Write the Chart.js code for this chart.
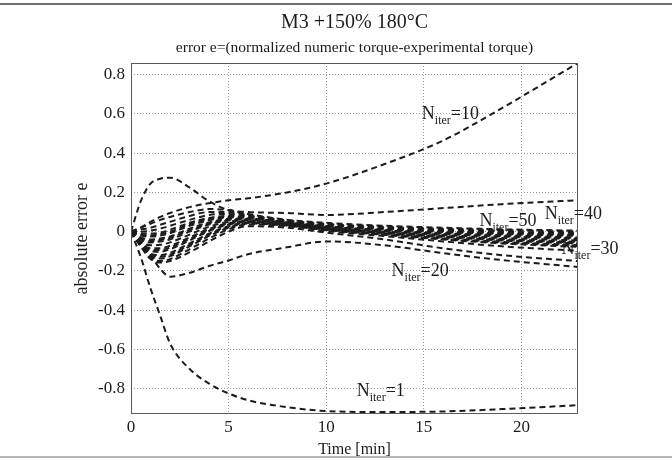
<!DOCTYPE html>
<html>
<head>
<meta charset="utf-8">
<script src="https://cdn.jsdelivr.net/npm/chart.js@4.4.0/dist/chart.umd.min.js"></script>
<style>
  html, body { margin: 0; padding: 0; background: #fff; }
</style>
</head>
<body>
<canvas id="errChart" width="672" height="462"></canvas>
<script>
// sample times [min]
const time = [0, 0.5, 1, 1.5, 2, 3, 4, 5, 6, 8, 10, 13, 16, 19, 22.9];

// absolute error e for the labelled curves
const iter1  = [0, -0.13, -0.29, -0.43, -0.57, -0.70, -0.775, -0.825, -0.86, -0.895, -0.915, -0.92, -0.917, -0.905, -0.885];
const iter10 = [0, 0.02, 0.05, 0.075, 0.095, 0.125, 0.145, 0.16, 0.17, 0.2, 0.245, 0.345, 0.465, 0.63, 0.86];
const iter20 = [0, -0.04, -0.12, -0.19, -0.23, -0.21, -0.175, -0.147, -0.115, -0.08, -0.05, -0.07, -0.11, -0.145, -0.18];
const iter40 = [0, 0.155, 0.245, 0.27, 0.275, 0.225, 0.155, 0.11, 0.10, 0.095, 0.085, 0.10, 0.12, 0.14, 0.16];

// the dense bundle of the remaining iteration counts
const bundle = [
  [0, 0.02, 0.04, 0.06, 0.075, 0.1, 0.115, 0.11, 0.09, 0.06, 0.045, 0.03, 0.02, 0.012, 0.005],
  [0, 0.01, 0.02, 0.035, 0.05, 0.08, 0.1, 0.1, 0.085, 0.058, 0.04, 0.025, 0.015, 0.008, 0.0],
  [0, 0, 0.005, 0.015, 0.03, 0.06, 0.085, 0.09, 0.08, 0.055, 0.037, 0.02, 0.01, 0.0, -0.008],
  [0, -0.01, -0.01, -0.005, 0.01, 0.045, 0.07, 0.08, 0.075, 0.052, 0.034, 0.016, 0.004, -0.006, -0.015],
  [0, -0.015, -0.018, -0.012, 0.0, 0.038, 0.064, 0.076, 0.072, 0.051, 0.032, 0.014, 0.001, -0.009, -0.018],
  [0, -0.02, -0.025, -0.02, -0.008, 0.03, 0.058, 0.072, 0.07, 0.05, 0.03, 0.012, -0.002, -0.012, -0.022],
  [0, -0.03, -0.04, -0.035, -0.025, 0.015, 0.047, 0.065, 0.066, 0.047, 0.027, 0.008, -0.007, -0.018, -0.03],
  [0, -0.035, -0.048, -0.043, -0.032, 0.008, 0.042, 0.061, 0.064, 0.046, 0.026, 0.006, -0.01, -0.022, -0.034],
  [0, -0.04, -0.055, -0.05, -0.04, 0.0, 0.036, 0.057, 0.062, 0.045, 0.024, 0.004, -0.012, -0.025, -0.038],
  [0, -0.05, -0.07, -0.067, -0.055, -0.015, 0.025, 0.05, 0.058, 0.042, 0.021, 0.0, -0.017, -0.032, -0.045],
  [0, -0.055, -0.085, -0.085, -0.072, -0.03, 0.014, 0.043, 0.054, 0.04, 0.018, -0.004, -0.022, -0.038, -0.052],
  [0, -0.058, -0.092, -0.094, -0.081, -0.038, 0.008, 0.04, 0.052, 0.038, 0.017, -0.006, -0.025, -0.042, -0.056],
  [0, -0.06, -0.1, -0.102, -0.09, -0.045, 0.003, 0.036, 0.05, 0.037, 0.015, -0.008, -0.027, -0.045, -0.06],
  [0, -0.065, -0.112, -0.12, -0.108, -0.06, -0.01, 0.028, 0.046, 0.034, 0.012, -0.012, -0.033, -0.052, -0.068],
  [0, -0.068, -0.118, -0.128, -0.117, -0.068, -0.016, 0.024, 0.044, 0.032, 0.01, -0.015, -0.037, -0.056, -0.073],
  [0, -0.07, -0.125, -0.137, -0.125, -0.075, -0.022, 0.02, 0.042, 0.031, 0.008, -0.017, -0.04, -0.06, -0.078],
  [0, -0.075, -0.135, -0.15, -0.14, -0.09, -0.035, 0.012, 0.037, 0.028, 0.004, -0.023, -0.05, -0.075, -0.098],
  [0, -0.075, -0.14, -0.158, -0.15, -0.105, -0.05, 0.0, 0.028, 0.02, -0.005, -0.04, -0.085, -0.12, -0.15]
];

const xTicks = [0, 5, 10, 15, 20];
const yTicks = [-0.8, -0.6, -0.4, -0.2, 0, 0.2, 0.4, 0.6, 0.8];

// curve labels: N_iter value and where it sits (time, error)
const labelIter = ['10', '50', '40', '30', '20', '1'];
const labelTime = [14.9, 17.85, 21.2, 22.05, 13.35, 11.56];
const labelErr  = [0.575, 0.03, 0.066, -0.112, -0.224, -0.84];

const titleText = 'M3 +150% 180\u00B0C';
const subtitleText = 'error e=(normalized numeric torque-experimental torque)';

const serif = '"Liberation Serif", "Times New Roman", serif';
const ink = '#1c1c1c';

function toPoints(vals) {
  return vals.map((v, i) => ({ x: time[i], y: v }));
}

function dashed(vals) {
  return {
    data: toPoints(vals),
    borderColor: ink,
    borderWidth: 2,
    borderDash: [6, 4],
    pointRadius: 0,
    fill: false,
    cubicInterpolationMode: 'monotone'
  };
}

const datasets = [iter1, iter10, iter20, iter40].concat(bundle).map(dashed);

function drawLabel(ctx, px, py, num) {
  ctx.font = '18px ' + serif;
  ctx.fillText('N', px, py);
  let w = ctx.measureText('N').width;
  ctx.font = '12px ' + serif;
  ctx.fillText('iter', px + w, py + 5);
  w += ctx.measureText('iter').width;
  ctx.font = '18px ' + serif;
  ctx.fillText('=' + num, px + w, py);
}

const decor = {
  id: 'decor',
  beforeDraw(chart) {
    const { ctx, width, height, chartArea: a } = chart;
    ctx.save();
    ctx.fillStyle = '#fff';
    ctx.fillRect(0, 0, width, height);
    ctx.fillStyle = '#6e6e6e';
    ctx.fillRect(0, 3, width, 2);
    ctx.fillStyle = '#b8b8b8';
    ctx.fillRect(0, 456, width, 2);
    const cx = (a.left + a.right) / 2;
    ctx.fillStyle = ink;
    ctx.textAlign = 'center';
    ctx.textBaseline = 'alphabetic';
    ctx.font = '20px ' + serif;
    ctx.fillText(titleText, cx, 28);
    ctx.font = '15.5px ' + serif;
    ctx.fillText(subtitleText, cx, 52);
    ctx.restore();
  },
  afterDatasetsDraw(chart) {
    const { ctx, chartArea: a, scales: { x, y } } = chart;
    ctx.save();
    ctx.strokeStyle = '#5a5a5a';
    ctx.lineWidth = 1;
    ctx.strokeRect(a.left + 0.5, a.top + 0.5, a.right - a.left - 1, a.bottom - a.top - 1);
    ctx.fillStyle = ink;
    ctx.textAlign = 'left';
    ctx.textBaseline = 'alphabetic';
    labelIter.forEach((n, i) => {
      drawLabel(ctx, x.getPixelForValue(labelTime[i]), y.getPixelForValue(labelErr[i]), n);
    });
    ctx.restore();
  }
};

new Chart(document.getElementById('errChart'), {
  type: 'line',
  data: { datasets: datasets },
  options: {
    responsive: false,
    animation: false,
    layout: { padding: { top: 63, right: 94, left: 0, bottom: 0 } },
    plugins: {
      legend: { display: false },
      tooltip: { enabled: false }
    },
    scales: {
      x: {
        type: 'linear',
        min: 0,
        max: 22.9,
        afterBuildTicks: s => { s.ticks = xTicks.map(v => ({ value: v })); },
        afterFit: s => { s.height = 48; },
        grid: { color: '#9a9a9a', drawTicks: false },
        border: { display: false, dash: [1, 2] },
        ticks: { color: ink, padding: 3, font: { family: serif, size: 17 }, callback: v => String(v) },
        title: { display: true, text: 'Time [min]', color: ink, font: { family: serif, size: 16 }, padding: { bottom: 3 } }
      },
      y: {
        min: -0.93,
        max: 0.86,
        afterBuildTicks: s => { s.ticks = yTicks.map(v => ({ value: v })); },
        afterFit: s => { s.width = 131; },
        grid: { color: '#9a9a9a', drawTicks: false },
        border: { display: false, dash: [1, 2] },
        ticks: { color: ink, padding: 6, font: { family: serif, size: 17 }, callback: v => String(v) },
        title: { display: true, text: 'absolute error e', color: ink, font: { family: serif, size: 18 }, padding: { top: 71 } }
      }
    }
  },
  plugins: [decor]
});
</script>
</body>
</html>
